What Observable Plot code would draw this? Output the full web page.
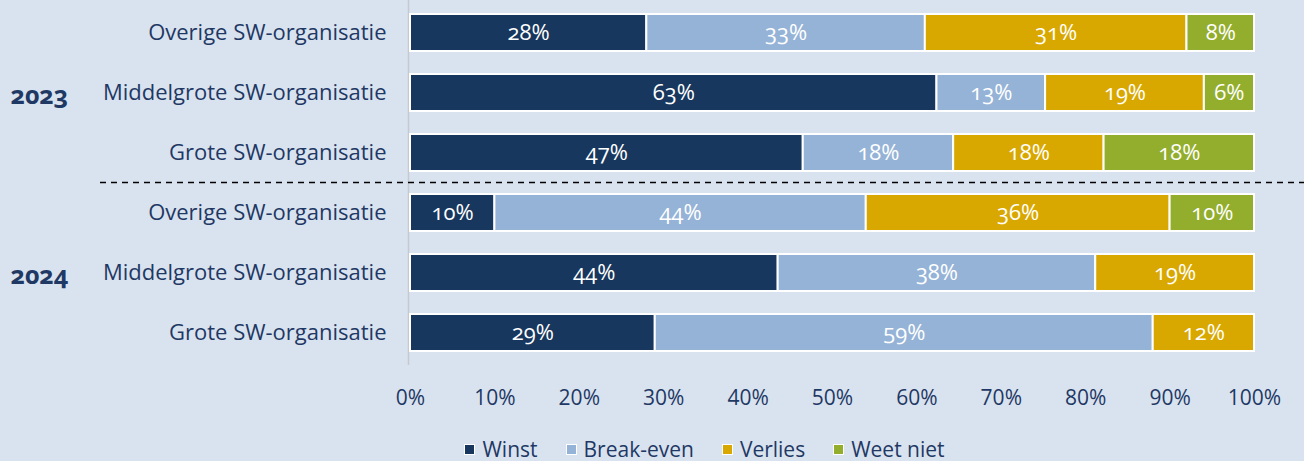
<!DOCTYPE html>
<html>
<head>
<meta charset="utf-8">
<script src="https://cdn.jsdelivr.net/npm/d3@7"></script>
<script src="https://cdn.jsdelivr.net/npm/@observablehq/plot@0.6"></script>
<style>
  html, body { margin: 0; padding: 0; background: #d9e3ef; }
  body { width: 1304px; height: 461px; overflow: hidden; font-family: "Open Sans", sans-serif; font-variant-numeric: oldstyle-nums; color: #1f3864; }
  #chart svg { display: block; }
  .legend { position: absolute; top: 436px; left: 0; width: 1304px; display: flex; justify-content: center; gap: 28px; padding-left: 105px; box-sizing: border-box; font-size: 21px; line-height: 26px; }
  .legend .item { display: flex; align-items: center; gap: 7px; }
  .legend .sw { width: 9px; height: 9px; border: 1.5px solid #fff; }
</style>
</head>
<body>
<div id="chart"></div>
<div class="legend" id="legend"></div>
<script>
const years = ["2023", "2023", "2023", "2024", "2024", "2024"];
const organisaties = [
  "Overige SW-organisatie", "Middelgrote SW-organisatie", "Grote SW-organisatie",
  "Overige SW-organisatie", "Middelgrote SW-organisatie", "Grote SW-organisatie"
];
const categories = ["Winst", "Break-even", "Verlies", "Weet niet"];
const colors = ["#17375e", "#95b3d7", "#d9a800", "#93ae2d"];
const winst     = [28, 63, 47, 10, 44, 29];
const breakEven = [33, 13, 18, 44, 38, 59];
const verlies   = [31, 19, 18, 36, 19, 12];
const weetNiet  = [8, 6, 18, 10, 0, 0];
const xTicks = [0, 0.1, 0.2, 0.3, 0.4, 0.5, 0.6, 0.7, 0.8, 0.9, 1];

const series = [winst, breakEven, verlies, weetNiet];
const rowKeys = years.map((y, i) => y + "|" + organisaties[i]);
const data = [];
rowKeys.forEach((row, i) => {
  categories.forEach((cat, j) => {
    const v = series[j][i];
    if (v > 0) data.push({row, cat, value: v});
  });
});

const textColor = "#1f3864";
const yearLabels = [
  {row: rowKeys[1], year: years[1]},
  {row: rowKeys[4], year: years[4]}
];

const plot = Plot.plot({
  width: 1304,
  height: 425,
  marginLeft: 410,
  marginRight: 50,
  marginTop: 0,
  marginBottom: 60,
  style: {background: "transparent", fontFamily: "Open Sans, sans-serif", fontSize: "21px", color: textColor, fontVariantNumeric: "oldstyle-nums"},
  x: {domain: [0, 1], label: null},
  y: {domain: rowKeys, padding: 0.39, paddingOuter: 0.206, label: null},
  color: {domain: categories, range: colors},
  marks: [
    Plot.axisX({ticks: xTicks, tickFormat: d3.format(".0%"), tickSize: 0, tickPadding: 25, fontSize: 21, label: null}),
    Plot.axisY({tickSize: 0, tickPadding: 24, fontSize: 22, tickFormat: d => d.split("|")[1], label: null}),
    Plot.ruleX([0], {stroke: "#c6cace", strokeWidth: 1.5, dx: -2}),
    Plot.barX(data, Plot.stackX({x: "value", y: "row", fill: "cat", order: categories, offset: "normalize", stroke: "white", strokeWidth: 2})),
    Plot.text(data, Plot.stackX({x: "value", y: "row", z: "cat", order: categories, offset: "normalize", text: d => d.value + "%", fill: "white", fontSize: 22})),
    Plot.text(yearLabels, {y: "row", text: "year", frameAnchor: "left", textAnchor: "start", dx: -400, dy: 3, fontWeight: "bold", fontSize: 25, fill: textColor})
  ]
});

// dashed separator between the two years
const y = plot.scale("y");
const svg = d3.select(plot);
const yMid = (y.apply(rowKeys[2]) + y.bandwidth + y.apply(rowKeys[3])) / 2;
svg.append("line")
  .attr("x1", 100).attr("x2", 1304)
  .attr("y1", yMid).attr("y2", yMid)
  .attr("stroke", "#000").attr("stroke-width", 1.5).attr("stroke-dasharray", "6,5");

document.getElementById("chart").appendChild(plot);

const legend = d3.select("#legend");
categories.forEach((c, i) => {
  const it = legend.append("div").attr("class", "item");
  it.append("div").attr("class", "sw").style("background", colors[i]);
  it.append("span").text(c);
});
</script>
</body>
</html>
